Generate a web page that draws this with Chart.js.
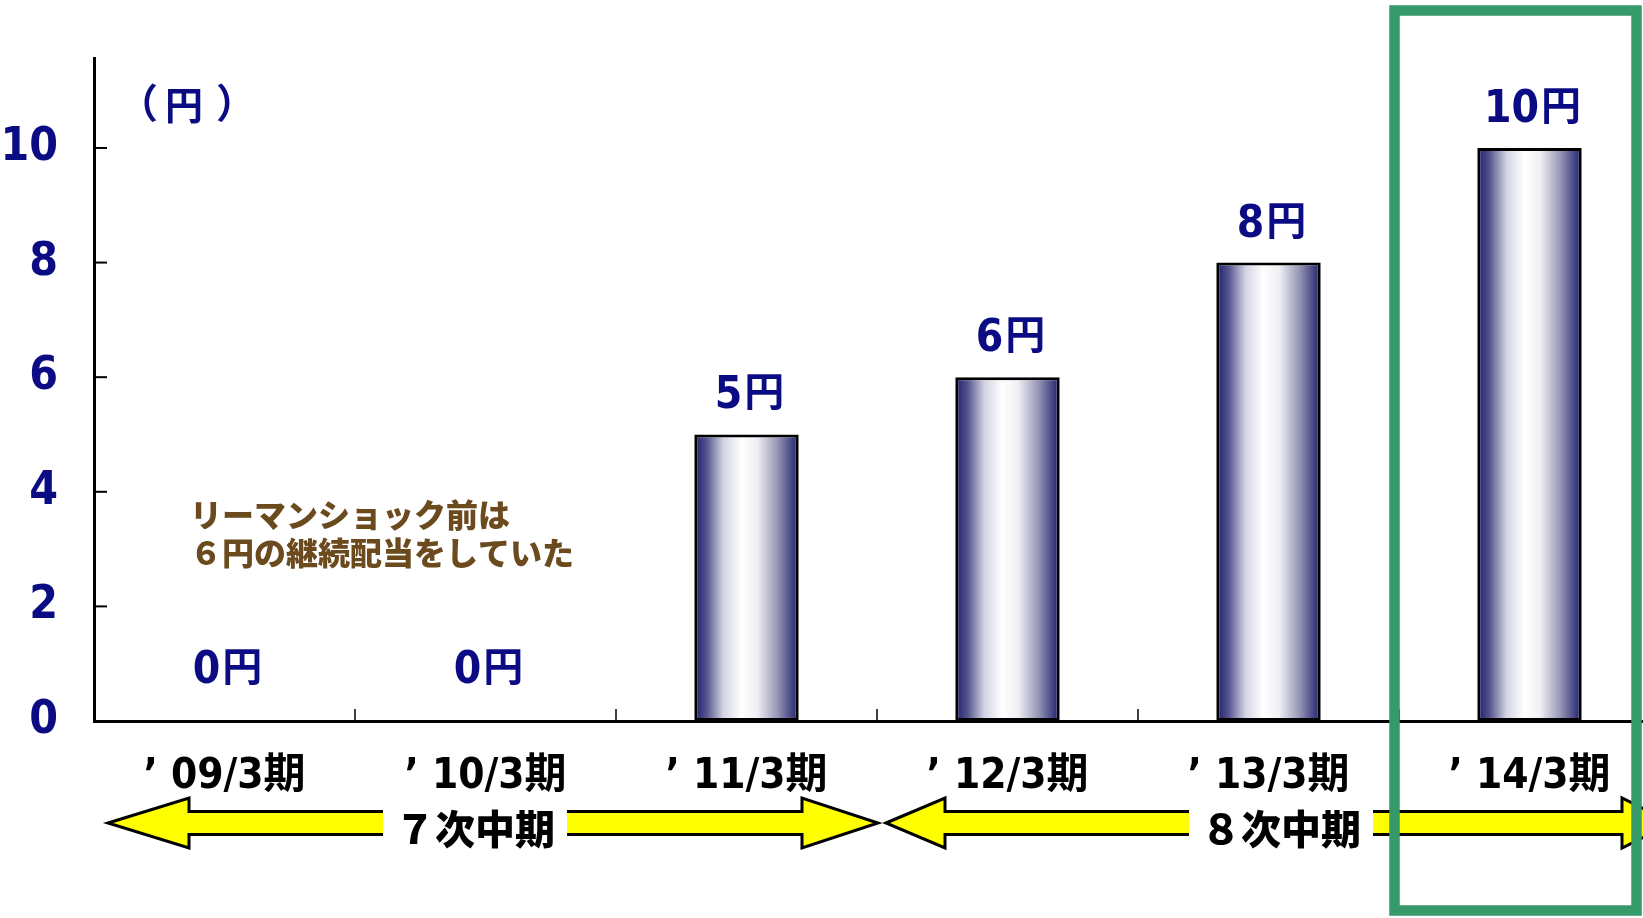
<!DOCTYPE html>
<html lang="ja">
<head>
<meta charset="utf-8">
<title>配当の推移</title>
<script src="https://cdn.jsdelivr.net/npm/chart.js@4/dist/chart.umd.min.js"></script>
<style>
  html, body { margin: 0; padding: 0; background: #fff; overflow: hidden; }
  #wrap { width: 1700px; height: 918px; }
</style>
</head>
<body>
<div id="wrap"><canvas id="chart" width="1700" height="918"></canvas></div>
<script>
const categories = ["’ 09/3期", "’ 10/3期", "’ 11/3期", "’ 12/3期", "’ 13/3期", "’ 14/3期"];
const dividends = [0, 0, 5, 6, 8, 10];
const yTicks = [0, 2, 4, 6, 8, 10];
const periods = ["７次中期", "８次中期"];
const note = ["リーマンショック前は", "６円の継続配当をしていた"];

const NAVY = "#0b0b84";
const COND = "'DejaVu Sans Condensed', 'Noto Sans CJK JP', sans-serif";
const JP = "'Noto Sans CJK JP', sans-serif";

function barGradient(c) {
  const xs = c.chart.scales.x;
  if (!xs || c.dataIndex === undefined) return "#ccd";
  const cx = xs.getPixelForValue(c.dataIndex);
  const w = (xs.getPixelForValue(1) - xs.getPixelForValue(0)) * 0.4;
  if (!isFinite(cx) || !isFinite(w) || w <= 0) return "#ccd";
  const g = c.chart.ctx.createLinearGradient(cx - w / 2, 0, cx + w / 2, 0);
  g.addColorStop(0, "#1c1c6c");
  g.addColorStop(0.12, "#56568e");
  g.addColorStop(0.28, "#d4d4e4");
  g.addColorStop(0.45, "#ffffff");
  g.addColorStop(0.6, "#f0f0f5");
  g.addColorStop(0.8, "#9494b4");
  g.addColorStop(1, "#1c1c6c");
  return g;
}

// left edge of category i, in pixels
function catEdge(xs, i) {
  const w = xs.getPixelForValue(1) - xs.getPixelForValue(0);
  return xs.getPixelForValue(0) - w / 2 + w * i;
}

function drawArrow(ctx, left, right, headL, headR, cy, label, textX) {
  const sh = 11.5, hh = 25;
  ctx.beginPath();
  ctx.moveTo(left, cy);
  ctx.lineTo(left + headL, cy - hh);
  ctx.lineTo(left + headL, cy - sh);
  ctx.lineTo(right - headR, cy - sh);
  ctx.lineTo(right - headR, cy - hh);
  ctx.lineTo(right, cy);
  ctx.lineTo(right - headR, cy + hh);
  ctx.lineTo(right - headR, cy + sh);
  ctx.lineTo(left + headL, cy + sh);
  ctx.lineTo(left + headL, cy + hh);
  ctx.closePath();
  ctx.fillStyle = "#ffff00";
  ctx.fill();
  ctx.lineWidth = 3;
  ctx.strokeStyle = "#000";
  ctx.lineJoin = "miter";
  ctx.stroke();

  ctx.font = "900 40px " + JP;
  const tw = ctx.measureText(label).width;
  ctx.fillStyle = "#fff";
  ctx.fillRect(textX - tw / 2 - 12, cy - hh + 2, tw + 24, hh * 2 - 2);
  ctx.fillStyle = "#000";
  ctx.textAlign = "center";
  ctx.textBaseline = "middle";
  ctx.fillText(label, textX, cy + 6);
}

const extras = {
  id: "extras",
  afterDraw(chart) {
    const ctx = chart.ctx;
    const xs = chart.scales.x, ys = chart.scales.y;
    ctx.save();

    // inner tick marks
    ctx.strokeStyle = "#000";
    ctx.lineWidth = 2;
    yTicks.forEach((v) => {
      if (v === 0) return;
      const y = ys.getPixelForValue(v);
      ctx.beginPath();
      ctx.moveTo(xs.left, y);
      ctx.lineTo(xs.left + 13, y);
      ctx.stroke();
    });
    ctx.lineWidth = 1.5;
    for (let i = 1; i < categories.length; i++) {
      const x = catEdge(xs, i);
      ctx.beginPath();
      ctx.moveTo(x, ys.bottom);
      ctx.lineTo(x, ys.bottom - 12);
      ctx.stroke();
    }

    // value labels above bars
    const meta = chart.getDatasetMeta(0);
    meta.data.forEach((bar, i) => {
      const v = dividends[i];
      const base = v === 0 ? bar.y - 38 : bar.y - 26;
      const num = String(v);
      ctx.font = "bold 44px " + COND;
      const nw = ctx.measureText(num).width;
      ctx.font = "bold 40px " + JP;
      const yw = ctx.measureText("円").width;
      const x0 = bar.x + 3 - (nw + yw + 2) / 2;
      ctx.fillStyle = NAVY;
      ctx.textAlign = "left";
      ctx.textBaseline = "alphabetic";
      ctx.font = "bold 44px " + COND;
      ctx.fillText(num, x0, base);
      ctx.font = "bold 40px " + JP;
      ctx.fillText("円", x0 + nw + 2, base - 2);
    });

    // unit label
    ctx.textAlign = "center";
    ctx.textBaseline = "middle";
    ctx.font = "bold 40px " + JP;
    ctx.fillText("（", 138, 103);
    ctx.fillText("）", 236, 103);
    ctx.font = "bold 38px " + JP;
    ctx.fillText("円", 184, 105);

    // note
    ctx.fillStyle = "#6b4a1e";
    ctx.textAlign = "left";
    ctx.font = "900 32px " + JP;
    ctx.fillText(note[0], 190, 515);
    ctx.fillText(note[1], 190, 553);

    // mid-term plan arrows
    const cy = 823;
    drawArrow(ctx, catEdge(xs, 0) + 14, catEdge(xs, 3) + 1, 81, 76, cy, periods[0], 475);
    drawArrow(ctx, catEdge(xs, 3) + 9, catEdge(xs, 6) + 12, 59, 50, cy, periods[1], 1281);

    // highlight frame for the latest period
    ctx.strokeStyle = "#36996a";
    ctx.lineWidth = 10.5;
    const fx = catEdge(xs, 5) - 4.5;
    ctx.strokeRect(fx, 10.5, 1636.5 - fx, 900);
    ctx.restore();
  }
};

new Chart(document.getElementById("chart"), {
  type: "bar",
  data: {
    labels: categories,
    datasets: [{
      data: dividends,
      backgroundColor: barGradient,
      borderColor: "#000",
      borderWidth: (c) => (dividends[c.dataIndex] === 0 ? 0 : 3),
      borderSkipped: false,
      categoryPercentage: 1,
      barPercentage: 0.4
    }]
  },
  options: {
    responsive: false,
    animation: false,
    layout: { padding: { top: 58, right: 40, left: 0, bottom: 0 } },
    plugins: { legend: { display: false }, tooltip: { enabled: false } },
    scales: {
      x: {
        afterFit: (s) => { s.height = 197; },
        grid: { display: false, drawTicks: false },
        border: { display: true, color: "#000", width: 3 },
        ticks: {
          color: "#000",
          font: { family: COND, size: 42, weight: "bold" },
          padding: 31,
          maxRotation: 0,
          autoSkip: false
        }
      },
      y: {
        min: 0,
        max: 11.57,
        afterFit: (s) => { s.width = 94; s.paddingTop = 0; s.paddingBottom = 0; },
        afterBuildTicks: (s) => { s.ticks = yTicks.map((v) => ({ value: v })); },
        grid: { display: false, drawTicks: false },
        border: { display: true, color: "#000", width: 3 },
        ticks: {
          color: NAVY,
          font: { family: COND, size: 46, weight: "bold" },
          padding: 36
        }
      }
    }
  },
  plugins: [extras]
});
</script>
</body>
</html>
